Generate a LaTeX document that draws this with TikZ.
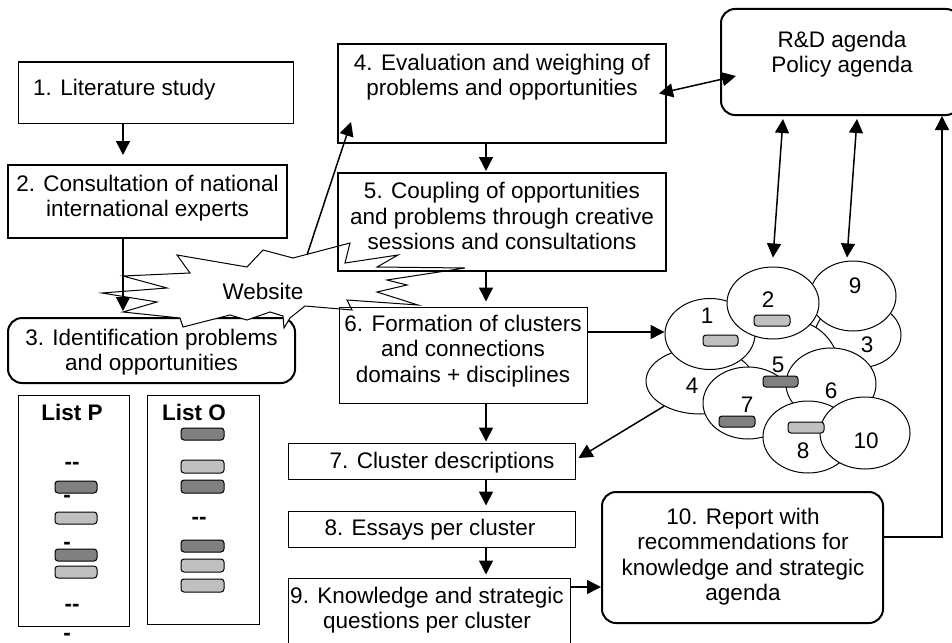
\documentclass[tikz,border=0pt]{standalone}
\usepackage{fontspec}
\setmainfont{Liberation Sans}
\usetikzlibrary{arrows.meta,fit,shapes.geometric,calc}
\definecolor{bardark}{HTML}{808080}
\definecolor{barlight}{HTML}{C0C0C0}
\begin{document}
\begin{tikzpicture}[x=1pt,y=-1pt,
  every node/.style={font=\fontsize{22.5}{25.5}\selectfont, inner sep=0pt},
  thinbox/.style={draw, line width=1pt, inner sep=0pt},
  thickbox/.style={draw, line width=2pt, inner sep=0pt},
  roundbox/.style={thickbox, rounded corners=14pt},
  txt/.style={align=center, anchor=north},
  arr/.style={line width=1.5pt, -{Triangle[length=14pt,width=14pt]}},
  dblarr/.style={line width=1.5pt, {Triangle[length=14pt,width=14pt]}-{Triangle[length=14pt,width=14pt]}},
  ell/.style={ellipse, draw, fill=white, line width=1pt, inner sep=0pt},
  bar/.style={draw, line width=1pt, rounded corners=3pt},
  boldtxt/.style={font=\fontsize{22.5}{25.5}\selectfont\bfseries, anchor=base},
]
\clip (0,0) rectangle (952,642);
\fill[white] (0,0) rectangle (952,642);

% box 3 (under the starburst)
\node[roundbox, fit={(8,318) (295,383)}] (b3) {};
\node[txt] (t3) at (151.5,328.8) {3. Identification problems\\and opportunities};

% Website starburst
\draw[line width=1pt, fill=white] (177,255) -- (247,267) -- (263,250) -- (293,258) -- (350,243) -- (345,263)
  -- (398,255) -- (377,267) -- (465,268) -- (387,280) -- (407,285) -- (377,292) -- (418,305)
  -- (347,300) -- (352,310) -- (305,306) -- (290,318) -- (284,328) -- (283,316) -- (270,312)
  -- (247,320) -- (230,315) -- (183,327) -- (180,318) -- (123,312) -- (157,302) -- (102,293)
  -- (167,288) -- (123,276) -- (190,273) -- cycle;
\node[anchor=base] (web) at (263,299) {Website};
\coordinate (wst) at (307,255);

% boxes
\node[thinbox, fit={(18,62) (293,123)}] (b1) {};
\node[anchor=base west] (t1) at (33,95.7) {1. Literature study};
\node[thickbox, fit={(8,165) (287,238)}] (b2) {};
\node[txt] (t2) at (147.5,174.5) {2. Consultation of national\\international experts};
\node[thickbox, fit={(338,44) (666,143)}] (b4) {};
\node[txt] (t4) at (502,53.8) {4. Evaluation and weighing of\\problems and opportunities};
\node[thickbox, fit={(338,173) (666,271)}] (b5) {};
\node[txt] (t5) at (502,182.3) {5. Coupling of opportunities\\and problems through creative\\sessions and consultations};
\node[thinbox, fit={(339,307) (587,403)}] (b6) {};
\node[txt] (t6) at (463,314.8) {6. Formation of clusters\\and connections\\domains + disciplines};
\node[thinbox, fit={(288,443) (575,479)}] (b7) {};
\node[anchor=base] (t7) at (442,468) {7. Cluster descriptions};
\node[thinbox, fit={(288,511) (575,547)}] (b8) {};
\node[anchor=base] (t8) at (430,535) {8. Essays per cluster};
\node[thinbox, fit={(288,578) (570,660)}] (b9) {};
\node[txt] (t9) at (427,586.5) {9. Knowledge and strategic\\questions per cluster};
\node[roundbox, fit={(602,492) (883,623)}] (b10) {};
\node[txt] (t10) at (743,507.8) {10. Report with\\recommendations for\\knowledge and strategic\\agenda};
\node[roundbox, fit={(721,9) (960,115)}] (rd) {};
\node[txt] (trd) at (842,30.5) {R\&D agenda\\Policy agenda};

% lists
\node[thinbox, fit={(18,395) (129,626)}] (lp) {};
\node[thinbox, fit={(147,395) (259,624)}] (lo) {};
\node[boldtxt] (lpt) at (72,420) {List P};
\node[boldtxt] (lot) at (194,420) {List O};
\node[boldtxt] (h1) at (72,469) {-{}-};
\node[boldtxt] (h2) at (67,502) {-};
\node[boldtxt] (h3) at (67,549) {-};
\node[boldtxt] (h4) at (72,611) {-{}-};
\node[boldtxt] (h5) at (67,640) {-};
\node[boldtxt] (h6) at (199,524) {-{}-};
\draw[bar, fill=bardark] (55,481) rectangle (97,493);
\draw[bar, fill=barlight] (55,512) rectangle (97,524);
\draw[bar, fill=bardark] (55,549) rectangle (97,561);
\draw[bar, fill=barlight] (55,566) rectangle (97,578);
\draw[bar, fill=bardark] (181,428) rectangle (224,440);
\draw[bar, fill=barlight] (181,460) rectangle (224,473);
\draw[bar, fill=bardark] (181,480) rectangle (224,493);
\draw[bar, fill=bardark] (181,540) rectangle (224,552);
\draw[bar, fill=barlight] (181,559) rectangle (224,572);
\draw[bar, fill=barlight] (181,579) rectangle (224,592);

% clusters
\node[ell, minimum width=86pt, minimum height=66pt] (e3) at (858,335) {};
\node[ell, minimum width=100pt, minimum height=104pt] (e5) at (790,372) {};
\node[ell, minimum width=108pt, minimum height=66pt] (e4) at (700,381) {};
\node[ell, minimum width=86pt, minimum height=70pt] (e9) at (853,296) {};
\node[ell, minimum width=90pt, minimum height=71pt] (e1) at (710,334) {};
\node[ell, minimum width=92pt, minimum height=72pt] (e2) at (773,303) {};
\node[ell, minimum width=90pt, minimum height=72pt] (e7) at (748,403) {};
\node[ell, minimum width=90pt, minimum height=72pt] (e6) at (831,384) {};
\node[ell, minimum width=90pt, minimum height=72pt] (e8) at (808,437) {};
\node[ell, minimum width=90pt, minimum height=72pt] (e10) at (865,433) {};
\node[anchor=base] (n1) at (707,323) {1};
\node[anchor=base] (n2) at (768,307) {2};
\node[anchor=base] (n9) at (855,293) {9};
\node[anchor=base] (n3) at (867,352) {3};
\node[anchor=base] (n5) at (778,372) {5};
\node[anchor=base] (n4) at (692,393) {4};
\node[anchor=base] (n6) at (831,398) {6};
\node[anchor=base] (n7) at (747,412) {7};
\node[anchor=base] (n8) at (803,458) {8};
\node[anchor=base] (n10) at (866,448) {10};
\draw[bar, fill=barlight] (703,335) rectangle (738,346);
\draw[bar, fill=barlight] (754,315) rectangle (790,326);
\draw[bar, fill=bardark] (763,376) rectangle (798,387);
\draw[bar, fill=bardark] (719,416) rectangle (755,427);
\draw[bar, fill=barlight] (788,422) rectangle (824,433);

% connectors
\draw[arr, shorten >=9pt] ([xshift=-32.5pt]b1.south) coordinate (p1) -- (p1 |- b2.north);
\draw[arr, shorten >=6pt] ([xshift=-24.5pt]b2.south) coordinate (p2) -- (p2 |- b3.north);
\draw[arr, shorten >=1pt] ([xshift=-16pt]b4.south) coordinate (p4) -- (p4 |- b5.north);
\draw[arr, shorten >=5pt] ([xshift=-16pt]b5.south) coordinate (p5) -- (p5 |- b6.north);
\draw[arr, shorten >=1pt] ([xshift=23pt]b6.south) coordinate (p6b) -- (p6b |- b7.north);
\draw[arr, shorten >=5pt] ([xshift=54.5pt]b7.south) coordinate (p7) -- (p7 |- b8.north);
\draw[arr, shorten >=3pt] ([xshift=54.5pt]b8.south) coordinate (p8) -- (p8 |- b9.north);
\draw[arr] (wst) -- ([xshift=14pt,yshift=22pt]b4.south west);
\draw[dblarr] ([xshift=-8pt]b4.east) -- ([xshift=16pt,yshift=-14pt]rd.west);
\draw[dblarr] ([yshift=9pt]e2.north) -- ([xshift=-57.5pt,yshift=-3pt]rd.south);
\draw[dblarr] ([xshift=-6pt,yshift=3pt]e9.north) -- ([xshift=16.5pt,yshift=-3pt]rd.south);
\draw[arr] ([yshift=23pt]b6.east) coordinate (p6) -- (p6 -| e1.west);
\draw[arr] (e4.215) -- ([xshift=3pt,yshift=3pt]b7.east);
\draw[arr] ([yshift=32pt]b9.east) coordinate (p9) -- (p9 -| b10.west);
\draw[arr] ([yshift=20.5pt]b10.east) -| ([xshift=101.5pt]rd.south);
\end{tikzpicture}
\end{document}
